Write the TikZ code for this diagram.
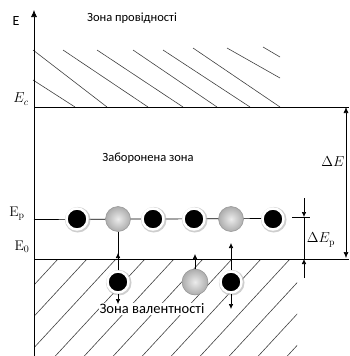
\documentclass[tikz,border=0pt]{standalone}
\usepackage{fontspec}
\setsansfont{Carlito}
\usetikzlibrary{arrows.meta,shadows}
\begin{document}
\begin{tikzpicture}[x=1pt,y=-1pt,
  lbl/.style={font=\sffamily\fontsize{12.5}{14}\selectfont, inner sep=0},
  mlbl/.style={font=\fontsize{14}{16}\selectfont, inner sep=0},
  axisline/.style={draw=black, line width=0.7pt},
  hatch/.style={draw=black!75, line width=0.6pt},
  tip/.style={-{Latex[length=5pt,width=4.5pt]}},
  blackdot/.style={circle, inner sep=0, minimum size=21pt, fill=black, draw=white, line width=2.5pt,
    drop shadow={shadow scale=1.22, shadow xshift=0.6pt, shadow yshift=-0.6pt, fill=gray!55, opacity=0.7}},
  graydot/.style={circle, inner sep=0, minimum size=25pt, draw=gray!85, line width=0.5pt,
    inner color=gray!15, outer color=gray!65},
]
\useasboundingbox (0,0) rectangle (349,356);

% upper hatch (conduction band)
\foreach \a/\b/\c/\d in {33/80/75/107, 33/50/107/107, 63/50/148/107, 97/50/183/107, 133/50/217/107,
  163/50/250/107, 193/48/280/107, 227/48/280/78, 263/47/280/57}
  \draw[hatch] (\a,\b) -- (\c,\d);

% lower hatch (valence band)
\begin{scope}
  \clip (34,259) rectangle (297,356);
  \foreach \i in {0,...,11} \draw[hatch] ({58+29*\i},259) -- ++(-110,119);
\end{scope}

% axis and levels
\coordinate (axB) at (34,356);
\coordinate (axT) at (34,10);
\draw[axisline, -{Latex[length=7pt,width=6pt]}] (axB) -- (axT);
\coordinate (ecL) at (34,107);
\coordinate (ecR) at (349,107);
\draw[axisline] (ecL) -- (ecR);
\coordinate (e0L) at (34,259);
\coordinate (e0R) at (349,259);
\draw[axisline] (e0L) -- (e0R);
\coordinate (epL) at (34,219.5);
\coordinate (epR) at (273,218.5);
\draw[axisline] (epL) -- (epR);

% Delta E
\coordinate (dEt) at (346,107);
\coordinate (dEb) at (346,258);
\draw[line width=0.6pt, {Latex[length=6pt,width=5pt]}-{Latex[length=6pt,width=5pt]}] (dEt) -- (dEb);

% Delta E_p
\coordinate (tkL) at (292,217);
\coordinate (tkR) at (310,217);
\draw[line width=0.8pt] (tkL) -- (tkR);
\coordinate (dpT) at (304,198);
\coordinate (dpM) at (304,217);
\coordinate (dpN) at (304,259);
\coordinate (dpB) at (304,278);
\draw[line width=0.6pt] (dpM) -- (dpN);
\draw[line width=0.6pt, tip] (dpT) -- (dpM);
\draw[line width=0.6pt, tip] (dpB) -- (dpN);

% labels
\node[lbl, font=\sffamily\fontsize{14}{16}\selectfont] (E) at (16,21) {E};
\node[lbl] (cb) at (132,18) {Зона провідності};
\node[mlbl] (Ec) at (21,99) {$E_c$};
\node[lbl] (gap) at (148,158) {Заборонена зона};
\node[mlbl] (dE) at (333,162) {$\Delta E$};
\node[mlbl] (Ep) at (17,214) {$\mathrm{E}_{\mathrm{p}}$};
\node[mlbl] (E0) at (22,247) {$\mathrm{E}_0$};
\node[mlbl] (dEp) at (321,240) {$\Delta E_{\mathrm{p}}$};
\node[lbl, font=\sffamily\fontsize{14.5}{16}\selectfont, fill=white, inner sep=1pt] (vb) at (152,309) {Зона валентності};

% particles on the acceptor level
\node[blackdot] (p1) at (77,219) {};
\node[graydot] (p2) at (118,219) {};
\node[blackdot] (p3) at (153,219) {};
\node[blackdot] (p4) at (194,219) {};
\node[graydot] (p5) at (231,219) {};
\node[blackdot] (p6) at (273,219) {};
% particles in the valence band
\node[blackdot] (v1) at (118,282) {};
\node[graydot, minimum size=26pt] (v2) at (195,282) {};
\node[blackdot] (v3) at (231,282) {};

% transitions
\coordinate (c1) at (118,259);
\coordinate (c1t) at (118,253);
\draw[line width=0.6pt] (p2.south) -- (c1);
\draw[line width=0.6pt, tip] (v1.north) -- (c1t);
\coordinate (c1d) at (118,304);
\draw[line width=0.6pt, tip] (v1.south) -- (c1d);
\coordinate (c2t) at (195,254);
\draw[line width=0.6pt, tip] (v2.north) -- (c2t);
\coordinate (c3t) at (231,243);
\draw[line width=0.6pt, tip] (v3.north) -- (c3t);
\coordinate (c3d) at (231,309);
\draw[line width=0.6pt, tip] (v3.south) -- (c3d);
\end{tikzpicture}
\end{document}
